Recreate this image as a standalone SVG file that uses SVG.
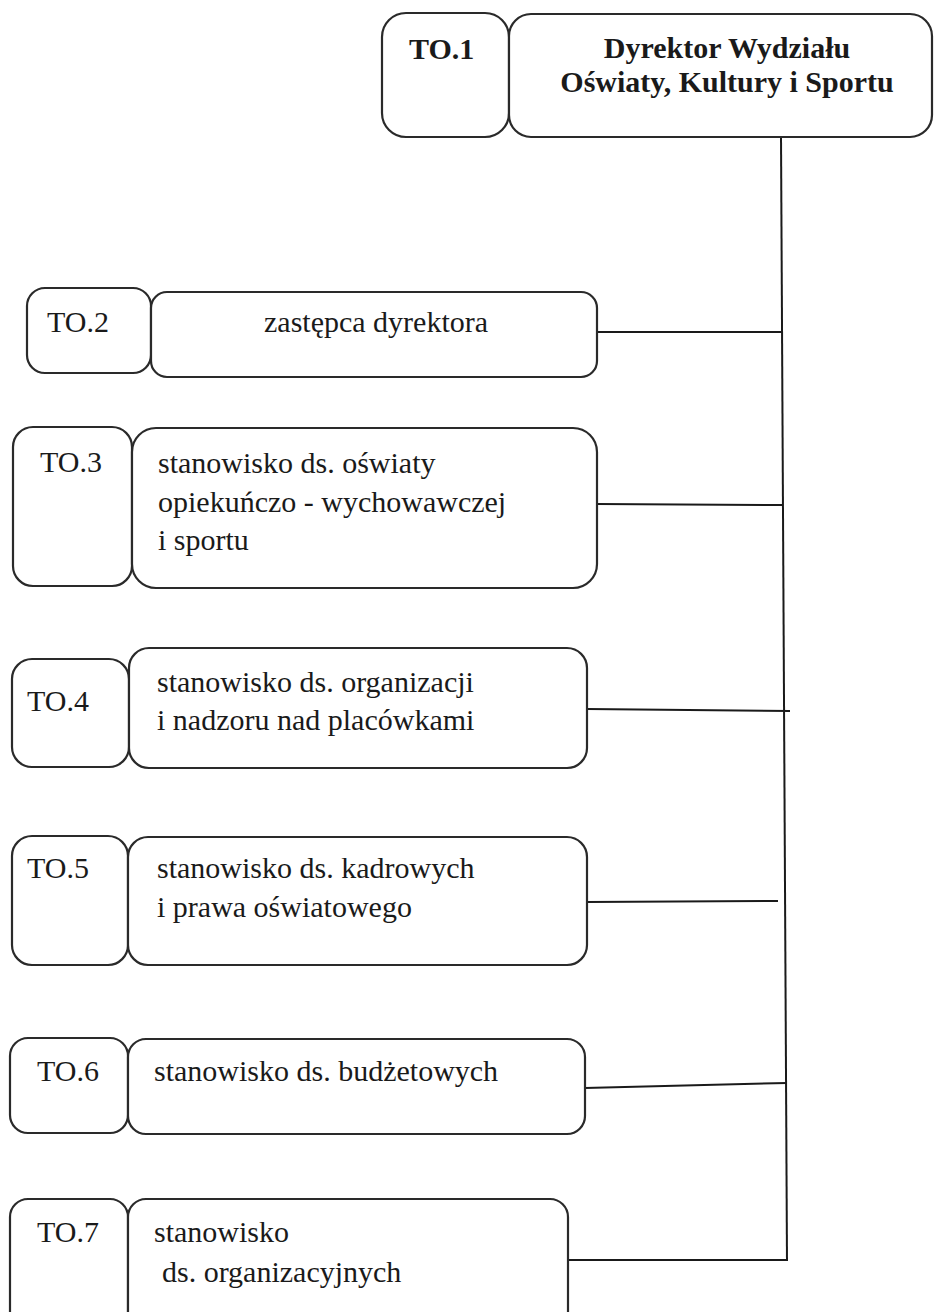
<svg xmlns="http://www.w3.org/2000/svg" width="934" height="1312" viewBox="0 0 934 1312">
<style>
.box{fill:#fff;stroke:#2a2a2a;stroke-width:2.2}
.t{font-family:"Liberation Serif","Times New Roman",serif;font-size:30px;fill:#1a1a1a}
.b{font-weight:bold}
.c{fill:none;stroke:#1a1a1a;stroke-width:2}
</style>
<rect width="934" height="1312" fill="#fff"/>
<g id="connectors">
<line class="c" x1="781" y1="137" x2="787" y2="1261"/>
<line class="c" x1="597" y1="332" x2="782" y2="332"/>
<line class="c" x1="597" y1="504" x2="782" y2="505"/>
<line class="c" x1="587" y1="709" x2="790" y2="711"/>
<line class="c" x1="587" y1="902" x2="778" y2="901"/>
<line class="c" x1="585" y1="1088" x2="787" y2="1083"/>
<line class="c" x1="568" y1="1260" x2="787" y2="1260"/>
</g>
<g id="TO1">
<rect class="box" x="382" y="13" width="127" height="124" rx="24"/>
<rect class="box" x="509" y="14" width="423" height="123" rx="22"/>
<text class="t b" x="409" y="59">TO.1</text>
<text class="t b" x="727" y="58" text-anchor="middle">Dyrektor Wydziału</text>
<text class="t b" x="727" y="92" text-anchor="middle">Oświaty, Kultury i Sportu</text>
</g>
<g id="TO2">
<rect class="box" x="27" y="288" width="124" height="85" rx="18"/>
<rect class="box" x="151" y="292" width="446" height="85" rx="16"/>
<text class="t" x="47" y="332">TO.2</text>
<text class="t" x="264" y="332">zastępca dyrektora</text>
</g>
<g id="TO3">
<rect class="box" x="13" y="427" width="119" height="159" rx="20"/>
<rect class="box" x="132" y="428" width="465" height="160" rx="24"/>
<text class="t" x="40" y="472">TO.3</text>
<text class="t" x="158" y="473">stanowisko ds. oświaty</text>
<text class="t" x="158" y="512">opiekuńczo - wychowawczej</text>
<text class="t" x="158" y="550">i sportu</text>
</g>
<g id="TO4">
<rect class="box" x="12" y="659" width="117" height="108" rx="20"/>
<rect class="box" x="129" y="648" width="458" height="120" rx="20"/>
<text class="t" x="27" y="711">TO.4</text>
<text class="t" x="157" y="692">stanowisko ds. organizacji</text>
<text class="t" x="157" y="730">i nadzoru nad placówkami</text>
</g>
<g id="TO5">
<rect class="box" x="12" y="836" width="116" height="129" rx="20"/>
<rect class="box" x="128" y="837" width="459" height="128" rx="20"/>
<text class="t" x="27" y="878">TO.5</text>
<text class="t" x="157" y="878">stanowisko ds. kadrowych</text>
<text class="t" x="157" y="917">i prawa oświatowego</text>
</g>
<g id="TO6">
<rect class="box" x="10" y="1038" width="118" height="95" rx="18"/>
<rect class="box" x="128" y="1039" width="457" height="95" rx="18"/>
<text class="t" x="37" y="1081">TO.6</text>
<text class="t" x="154" y="1081">stanowisko ds. budżetowych</text>
</g>
<g id="TO7">
<rect class="box" x="10" y="1199" width="118" height="140" rx="18"/>
<rect class="box" x="128" y="1199" width="440" height="140" rx="18"/>
<text class="t" x="37" y="1242">TO.7</text>
<text class="t" x="154" y="1242">stanowisko</text>
<text class="t" x="162" y="1282">ds. organizacyjnych</text>
</g>
</svg>
